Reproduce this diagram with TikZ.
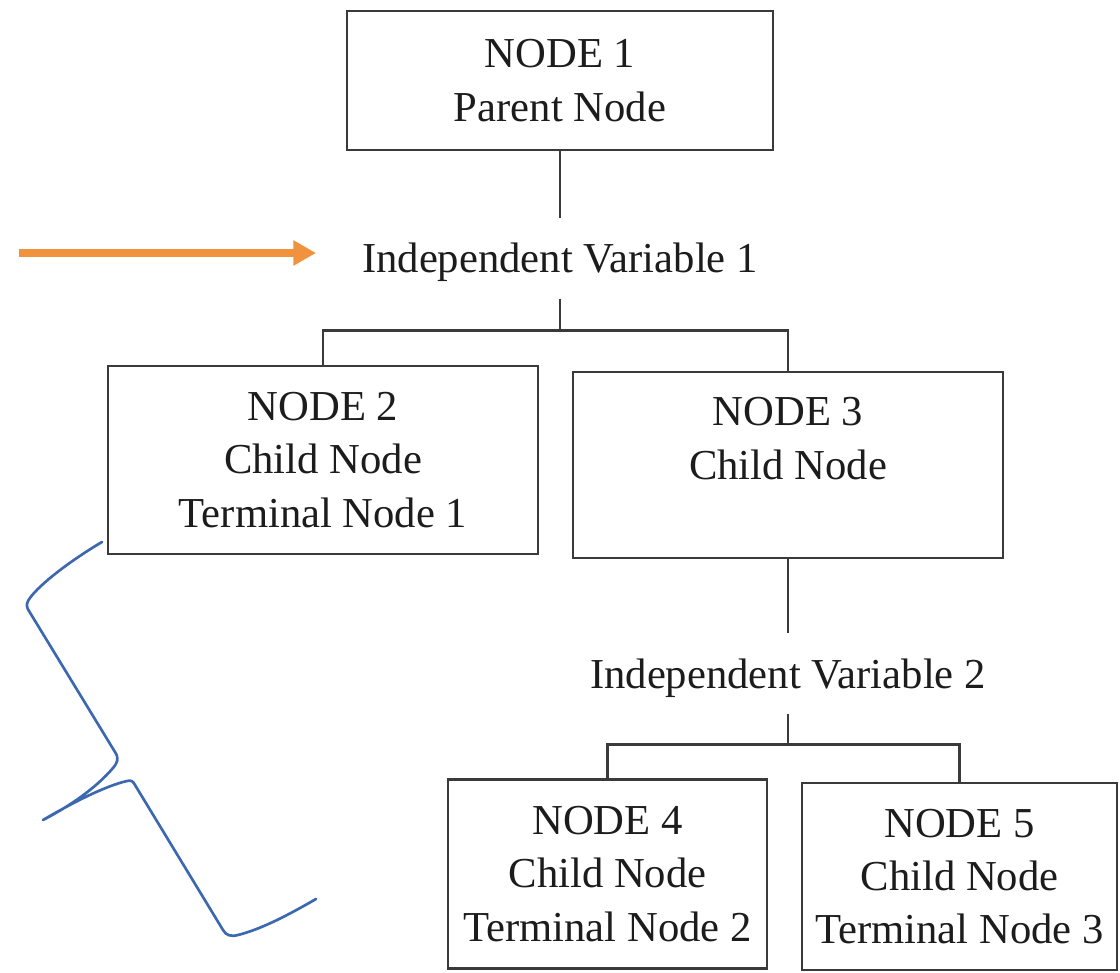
\documentclass[tikz,border=0pt]{standalone}
\usepackage{fontspec}
\setmainfont{Liberation Serif}
\usetikzlibrary{arrows.meta}
\definecolor{ink}{HTML}{1C1C1C}
\definecolor{rulegray}{HTML}{3A3A3A}
\definecolor{penorange}{RGB}{241,146,62}
\definecolor{penblue}{RGB}{60,104,175}
\begin{document}
\begin{tikzpicture}[x=0.75pt,y=-0.75pt,
  treebox/.style={draw=rulegray, line width=1.9pt, inner sep=0pt, align=center,
    text=ink, font=\fontsize{32}{40}\selectfont},
  varlabel/.style={inner sep=0pt, text height=41pt, text depth=19pt, anchor=base,
    text=ink, font=\fontsize{32}{40}\selectfont},
  link/.style={draw=rulegray, line width=1.9pt}]
\useasboundingbox (0,0) rectangle (1120,973);

% tree boxes
\node[treebox, minimum width={426*0.75pt}, minimum height={139*0.75pt}] (n1) at (560,80.5) {NODE 1\\Parent Node};
\node[treebox, minimum width={430*0.75pt}, minimum height={188*0.75pt}] (n2) at (323,460) {NODE 2\\Child Node\\Terminal Node 1};
\node[treebox, minimum width={430*0.75pt}, minimum height={186*0.75pt}] (n3) at (788,465) {NODE 3\\Child Node\\\mbox{}};
\node[treebox, minimum width={319*0.75pt}, minimum height={189*0.75pt}] (n4) at (607.5,874) {NODE 4\\Child Node\\Terminal Node 2};
\node[treebox, minimum width={315*0.75pt}, minimum height={187*0.75pt}] (n5) at (959.5,876.5) {NODE 5\\Child Node\\Terminal Node 3};

% split variables
\node[varlabel] (iv1) at (560,273) {Independent Variable 1};
\node[varlabel] (iv2) at (788,688) {Independent Variable 2};

% connectors
\path (iv1.south) ++(0,32) coordinate (b1);
\path (iv2.south) ++(0,31) coordinate (b2);
\draw[link] (n1.south) -- (iv1.north);
\draw[link] (iv1.south) -- (b1);
\draw[link] (n2.north) |- (b1) -| (n3.north);
\draw[link] (n3.south) -- (iv2.north);
\draw[link] (iv2.south) -- (b2);
\draw[link] (n4.north) |- (b2) -| (n5.north);

% orange pointer
\coordinate (ot) at (19,253);
\coordinate (oh) at (316,253);
\draw[penorange, line width=6pt, -{Triangle[length=17pt,width=18pt]}] (ot) -- (oh);

% blue hand-drawn brace
\draw[penblue, line width=2pt, line cap=round, line join=round]
  (102,542) .. controls (68,562) and (35,588) .. (28,601)
  .. controls (26,605) and (27,608) .. (29,611)
  -- (115,752)
  .. controls (119,758) and (118,762) .. (113,768)
  .. controls (96,788) and (70,806) .. (43,820)
  .. controls (72,803) and (105,786) .. (127,781)
  .. controls (131,780) and (133,781) .. (135,785)
  -- (223,930)
  .. controls (226,935) and (230,937) .. (238,935)
  .. controls (262,929) and (290,914) .. (316,899);
\end{tikzpicture}
\end{document}
